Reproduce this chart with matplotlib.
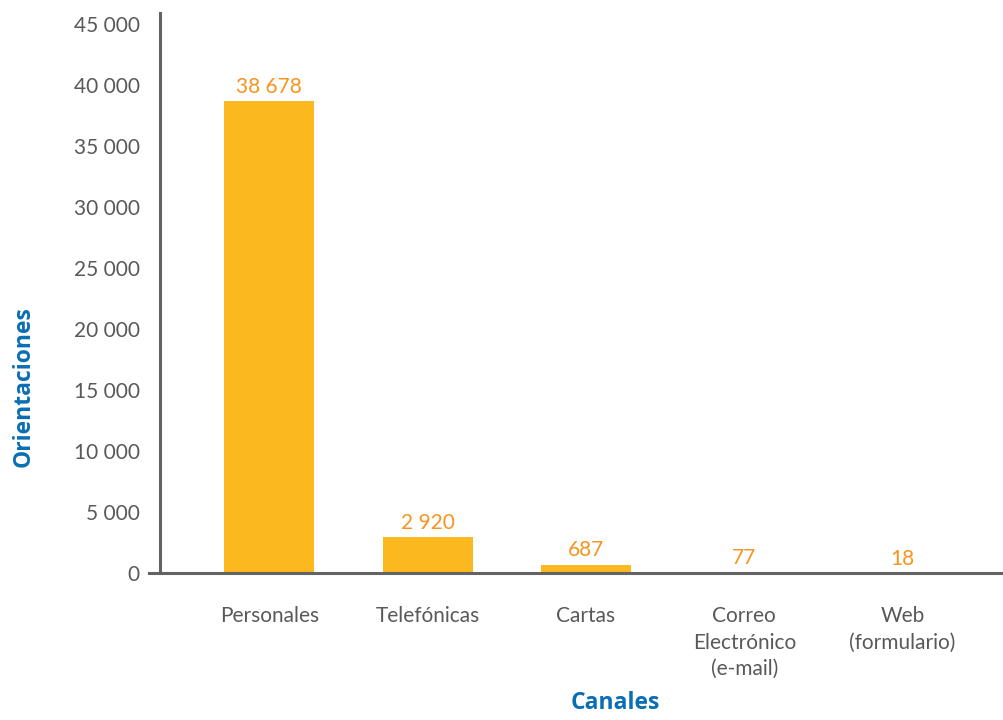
import numpy as np
import matplotlib
matplotlib.use("Agg")
import matplotlib.pyplot as plt
from matplotlib.ticker import FuncFormatter

canales = ["Personales", "Telefónicas", "Cartas", "Correo\nElectrónico\n(e-mail)", "Web\n(formulario)"]
orientaciones = [38678, 2920, 687, 77, 18]
y_ticks = [0, 5000, 10000, 15000, 20000, 25000, 30000, 35000, 40000, 45000]

BAR = "#FBB81F"
LABEL = "#F7941D"
GREY = "#595959"
AXIS = "#636363"
BLUE = "#0A6EB4"


def fmt_miles(v, pos=None):
    return f"{int(v):,}".replace(",", " ")


plt.rcParams["font.family"] = ["Lato", "DejaVu Sans"]

fig = plt.figure(figsize=(10.04, 7.2), dpi=100)
ax = fig.add_axes([0.1594, 0.2042, 0.8406, 0.7778])

x = np.arange(len(canales))
bars = ax.bar(x, orientaciones, width=0.568, color=BAR, zorder=2)

for xi, v in zip(x, orientaciones):
    ax.annotate(fmt_miles(v), (xi, v), xytext=(0, 3), textcoords="offset points",
                ha="center", va="bottom", fontsize=15, color=LABEL)

ax.set_xlim(-0.69, 4.64)
ax.set_ylim(0, 45900)
ax.set_yticks(y_ticks)
ax.yaxis.set_major_formatter(FuncFormatter(fmt_miles))
ax.set_xticks(x)
ax.set_xticklabels(canales, fontsize=15, color=GREY, linespacing=1.4, va="top")
ax.tick_params(axis="y", length=0, pad=14.5, labelsize=15, labelcolor=GREY)
ax.tick_params(axis="x", length=0, pad=24)

for s in ["top", "right"]:
    ax.spines[s].set_visible(False)
ax.spines["left"].set_color(AXIS)
ax.spines["left"].set_linewidth(2.2)
ax.spines["bottom"].set_visible(False)
ax.axhline(0, xmin=-0.013, xmax=1, color=AXIS, lw=2.2, clip_on=False, zorder=3)

ax.set_xlabel("Canales", fontsize=16.5, fontweight="bold", color=BLUE, family="Open Sans")
ax.xaxis.set_label_coords(0.540, -0.210)
ax.set_ylabel("Orientaciones", fontsize=16.5, fontweight="bold", color=BLUE, family="Open Sans")
ax.yaxis.set_label_coords(-0.147, 0.332)

fig.savefig("out.png", dpi=100)
